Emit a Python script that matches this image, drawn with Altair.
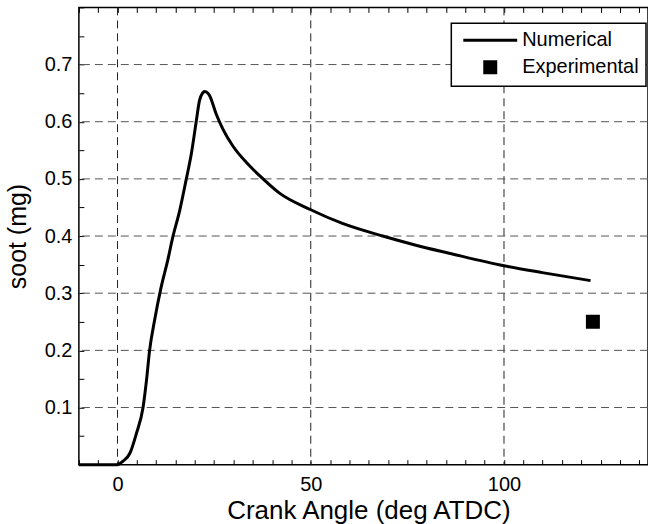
import altair as alt
import pandas as pd

# ---- data ----
crank = [-10, -5, 0, 1.4, 3.2, 4.9, 6.6, 7.5, 8.3, 9.6, 11.3, 13.0, 14.3, 16.1, 17.8,
         19.1, 20.4, 21.2, 22.0, 22.5, 23.0, 23.8, 25.5, 27.2, 29.8, 33.3, 36.7, 41.9,
         50, 58.2, 68.6, 77.2, 85.8, 100, 109.9, 122.4]
soot = [0, 0, 0, 0.006, 0.020, 0.055, 0.10, 0.148, 0.20, 0.253, 0.311, 0.358, 0.398,
        0.445, 0.50, 0.544, 0.602, 0.637, 0.650, 0.653, 0.652, 0.646, 0.614, 0.588,
        0.558, 0.529, 0.506, 0.475, 0.446, 0.422, 0.400, 0.384, 0.370, 0.348, 0.336, 0.322]
exp_angle = [123.0]
exp_soot = [0.25]
series_names = ["Numerical", "Experimental"]
x_grid = [0, 50, 100]
y_grid = [0.1, 0.2, 0.3, 0.4, 0.5, 0.6, 0.7]
x_ticks = [-10, -5, 0, 5, 10, 15, 20, 25, 30, 35, 40, 45, 50, 55, 60, 65, 70, 75, 80,
           85, 90, 95, 100, 105, 110, 115, 120, 125, 130, 135]
x_labels = [0, 50, 100]
y_ticks = [0.0, 0.05, 0.1, 0.15, 0.2, 0.25, 0.3, 0.35, 0.4, 0.45, 0.5, 0.55, 0.6,
           0.65, 0.7, 0.75, 0.8]
y_labels = [0.1, 0.2, 0.3, 0.4, 0.5, 0.6, 0.7]

FONT = "Liberation Sans"
NBSP = "\u00a0"

num_df = pd.DataFrame({"crank": crank, "soot": soot, "series": series_names[0]})
exp_df = pd.DataFrame({"crank": exp_angle, "soot": exp_soot, "series": series_names[1]})
xg_df = pd.DataFrame({"v": x_grid})
yg_df = pd.DataFrame({"v": y_grid})

xscale = alt.Scale(domain=[-10, 137.26], nice=False, zero=False)
yscale = alt.Scale(domain=[0, 0.8], nice=False, zero=False)

color_scale = alt.Scale(domain=series_names, range=["black", "black"])
shape_scale = alt.Scale(domain=series_names, range=["M-4,0H4", "square"])
size_scale = alt.Scale(domain=series_names, range=[182, 121])

legend = alt.Legend(
    title=None, orient="none", legendX=373, legendY=16,
    strokeColor="black", fillColor="white", padding=7, cornerRadius=0,
    labelFont=FONT, labelFontSize=20, labelColor="black",
    labelOffset=22, symbolOffset=22,
    labelExpr="datum.label + '" + NBSP * 4 + "'",
    symbolStrokeWidth=3, symbolStrokeColor="black", symbolFillColor="black",
    rowPadding=5,
)

# label axes (no ticks, no domain)
bottom_labels = alt.Axis(
    orient="bottom", values=x_labels, title="Crank Angle (deg ATDC)", grid=False,
    ticks=False, domain=False, labelOverlap=False, labelFlush=False, labelPadding=10,
    titlePadding=3, titleFontSize=26, titleX=290,
)
left_labels = alt.Axis(
    orient="left", values=y_labels, format=".1f", title="soot (mg)", grid=False,
    ticks=False, domain=False, labelOverlap=False, labelFlush=False, labelPadding=7,
    titlePadding=14, titleFontSize=25,
)
# inward tick axes (shifted inside the plot by a negative offset)
bottom_ticks = alt.Axis(
    orient="bottom", values=x_ticks, title=None, labels=False, grid=False,
    domain=False, tickSize=5, offset=-5,
)
top_ticks = alt.Axis(
    orient="top", values=x_ticks, title=None, labels=False, grid=False,
    domain=False, tickSize=5, offset=-5,
)
left_ticks = alt.Axis(
    orient="left", values=y_ticks, title=None, labels=False, grid=False,
    domain=False, tickSize=5, offset=-5,
)

xgrid = alt.Chart(xg_df).mark_rule(strokeDash=[8, 5], color="#222222", strokeWidth=1).encode(
    x=alt.X("v:Q", scale=xscale, axis=bottom_ticks)
)
ygrid = alt.Chart(yg_df).mark_rule(strokeDash=[8, 5], color="#555555", strokeWidth=1).encode(
    y=alt.Y("v:Q", scale=yscale, axis=left_ticks)
)
line = alt.Chart(num_df).mark_line(strokeWidth=3, interpolate="monotone").encode(
    x=alt.X("crank:Q", scale=xscale, axis=bottom_labels),
    y=alt.Y("soot:Q", scale=yscale, axis=left_labels),
    color=alt.Color("series:N", scale=color_scale, legend=legend),
)
points = alt.Chart(exp_df).mark_point(filled=True, opacity=1, stroke="black", strokeWidth=3).encode(
    x=alt.X("crank:Q", scale=xscale, axis=top_ticks),
    y=alt.Y("soot:Q", scale=yscale, axis=None),
    color=alt.Color("series:N", scale=color_scale, legend=legend),
    shape=alt.Shape("series:N", scale=shape_scale, legend=legend),
    size=alt.Size("series:N", scale=size_scale, legend=legend),
)

chart = alt.layer(xgrid, ygrid, line, points).resolve_axis(
    x="independent", y="independent"
).properties(
    width=570, height=458,
    autosize=alt.AutoSizeParams(type="none"),
    padding={"left": 79, "top": 7, "right": 0, "bottom": 59},
    background="white",
).configure_view(stroke="black", strokeWidth=1.5).configure_axis(
    tickColor="black", tickWidth=1,
    labelFont=FONT, labelFontSize=20, labelColor="black",
    titleFont=FONT, titleFontWeight="normal", titleColor="black",
).configure_legend(strokeWidth=1.5)

chart.save("out.html", embed_options={"renderer": "svg", "actions": False})
